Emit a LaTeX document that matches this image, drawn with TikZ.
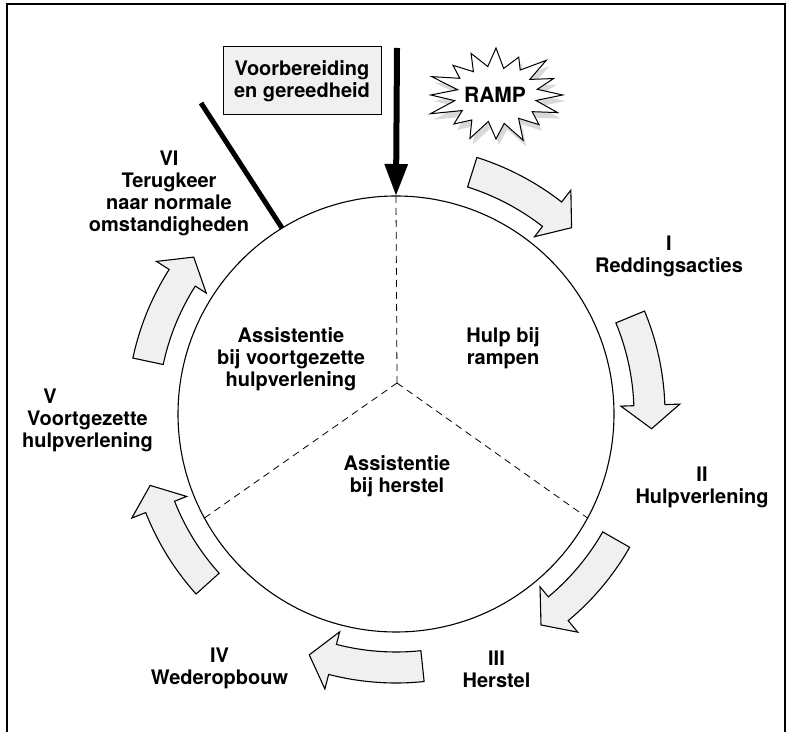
\documentclass[tikz,border=0pt]{standalone}
\usepackage{fontspec}
\setmainfont{TeX Gyre Heros}
\usetikzlibrary{arrows.meta}
\begin{document}
\begin{tikzpicture}[x=1pt,y=1pt,
  lbl/.style={font=\fontsize{20}{22}\selectfont\bfseries, align=center, inner sep=0pt, anchor=north},
  blockarrow/.style={draw=black, line width=1.1pt, fill=gray!12, line join=miter},
  dashline/.style={dash pattern=on 7pt off 5pt, line width=0.8pt},
  burst/.style={draw=black, line width=1pt, line join=miter}]
\useasboundingbox (0,0) rectangle (792,731);
% frame
\draw[line width=1.3pt] (7,-2) -- (7,727) -- (785,727) -- (785,-2);

% circle and block arrows
\begin{scope}[shift={(396,317)}]
  \node[draw, circle, line width=1.1pt, minimum size=436, inner sep=0pt] (circ) at (0,0) {};
  \coordinate (top) at (90:218);
  \coordinate (lr) at (-28.5:218);
  \coordinate (ll) at (208.5:218);
  \coordinate (j) at (1,31);
  \coordinate (m6) at (121.5:218);
  \foreach \T in {72.5,22.5,-29.7,-84,-138,168}{
    \pgfmathsetmacro\B{\T-20.5}
    \pgfmathsetmacro\P{\B-5.3}
    \draw[blockarrow] (\T:269) arc[start angle=\T, end angle=\B, radius=269]
      -- (\B:284) -- (\P:256) -- (\B:225) -- (\B:238)
      arc[start angle=\B, end angle=\T, radius=238] -- cycle;
  }
\end{scope}

% dashed sectors
\draw[dashline] (j) -- (top);
\draw[dashline] (j) -- (lr);
\draw[dashline] (j) -- (ll);

% thick line to VI
\coordinate (l6) at (201,628);
\draw[line width=5pt] (l6) -- (m6);

% box and vertical arrow
\node[draw, fill=gray!12, line width=1pt, minimum width=158, minimum height=68, lbl, anchor=center] (box) at (302,650) {Voorbereiding\\en gereedheid};
\coordinate (vs) at (397,683);
\draw[line width=6pt, -{Triangle[width=22pt,length=32pt]}] (vs) -- (top);

% RAMP burst
\begin{scope}[shift={(499,630)}, xscale=1.45]
  \fill[gray!30] (0:46) \foreach \a/\ro/\ri in {22.5/43/29,45/49/28,67.5/41/30,90/47/27,112.5/45/29,135/42/28,157.5/48/30,180/45/27,202.5/49/29,225/41/28,247.5/47/30,270/44/27,292.5/49/29,315/42/28,337.5/46/30}{ -- (\a-11.25:\ri) -- (\a:\ro) } -- (348.75:28) -- cycle;
\end{scope}
\begin{scope}[shift={(496,636)}, xscale=1.45]
  \draw[burst, fill=white] (0:46) \foreach \a/\ro/\ri in {22.5/43/29,45/49/28,67.5/41/30,90/47/27,112.5/45/29,135/42/28,157.5/48/30,180/45/27,202.5/49/29,225/41/28,247.5/47/30,270/44/27,292.5/49/29,315/42/28,337.5/46/30}{ -- (\a-11.25:\ri) -- (\a:\ro) } -- (348.75:28) -- cycle;
\end{scope}
\node[lbl, anchor=center, font=\fontsize{21}{24}\selectfont\bfseries] (ramp) at (495,636) {RAMP};

% labels
\node[lbl] (n1) at (669,495.5) {I\\Reddingsacties};
\node[lbl] (n2) at (702,264.5) {II\\Hulpverlening};
\node[lbl] (n3) at (496.5,80.5) {III\\Herstel};
\node[lbl] (n4) at (219.5,83.5) {IV\\Wederopbouw};
\node[lbl] (n5v) at (50,342.5) {V};
\node[lbl] (n5) at (87.5,320.5) {Voortgezette\\hulpverlening};
\node[lbl] (n6) at (169,580.5) {VI\\Terugkeer\\naar normale\\omstandigheden};
\node[lbl] (c1) at (291,403.5) {Assistentie\\bij voortgezette\\hulpverlening};
\node[lbl] (c2) at (503,403.5) {Hulp bij\\rampen};
\node[lbl] (c3) at (397,275.5) {Assistentie\\bij herstel};
\end{tikzpicture}
\end{document}
